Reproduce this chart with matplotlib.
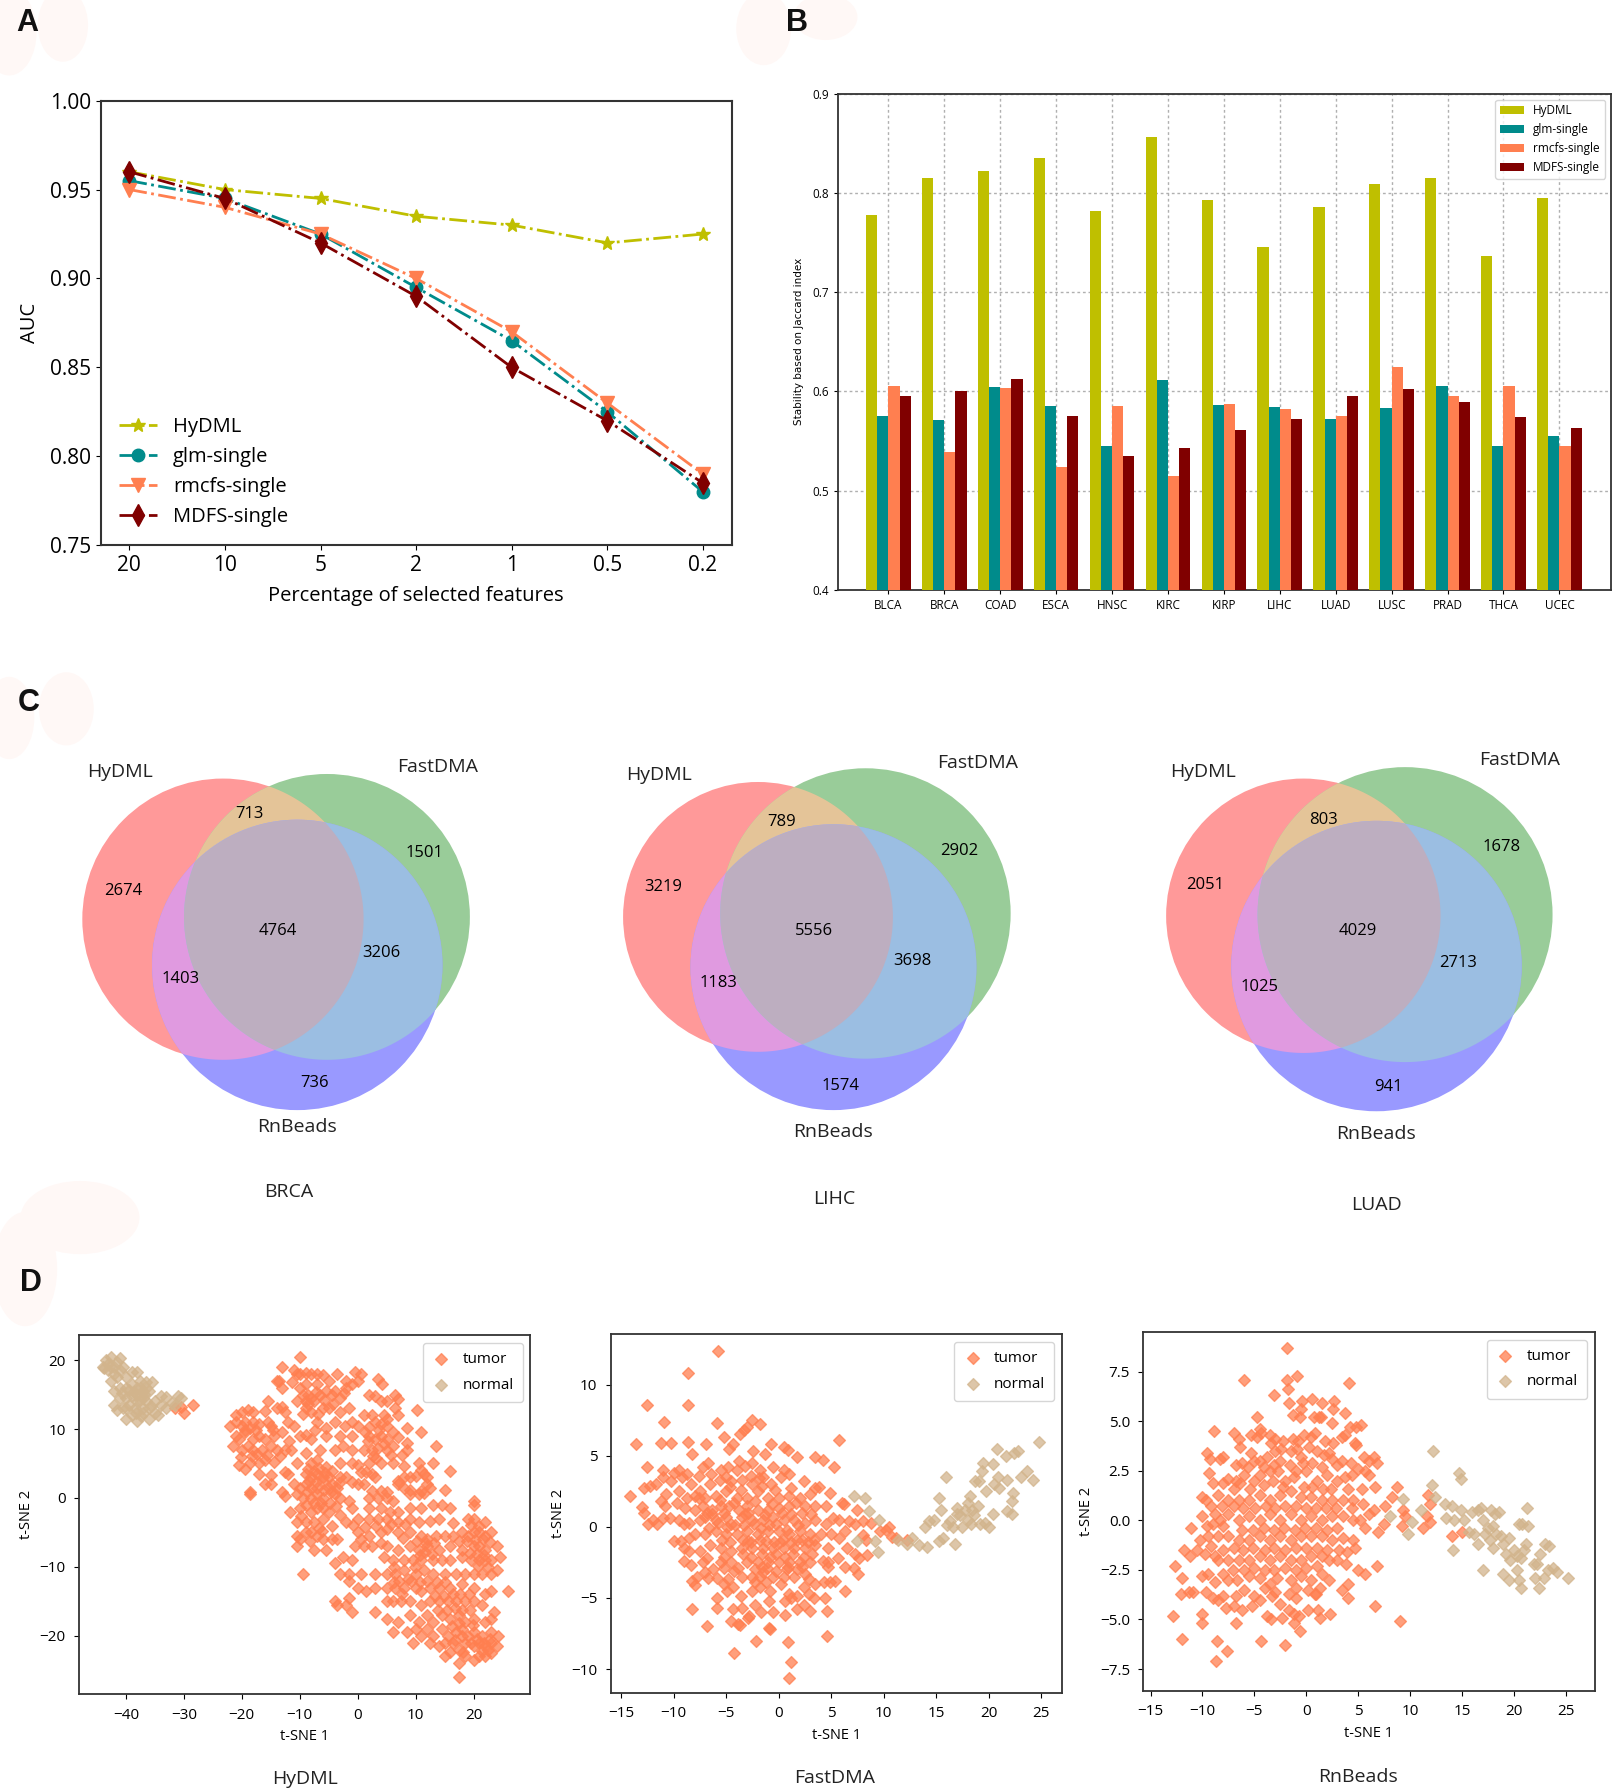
import numpy as np
import matplotlib
matplotlib.use('Agg')
import matplotlib.pyplot as plt
from matplotlib.patches import Circle, Ellipse, Polygon

W, H = 1612, 1791
S = W / 1410.0  # layout below was measured on a 1410 wide view

# panel A
pct_labels = ['20', '10', '5', '2', '1', '0.5', '0.2']
auc_hydml = [0.96, 0.95, 0.945, 0.935, 0.93, 0.92, 0.925]
auc_glm = [0.955, 0.945, 0.925, 0.895, 0.865, 0.825, 0.78]
auc_rmcfs = [0.95, 0.94, 0.925, 0.90, 0.87, 0.83, 0.79]
auc_mdfs = [0.96, 0.945, 0.92, 0.89, 0.85, 0.82, 0.785]

# panel B
cancers = ['BLCA', 'BRCA', 'COAD', 'ESCA', 'HNSC', 'KIRC', 'KIRP', 'LIHC', 'LUAD', 'LUSC', 'PRAD', 'THCA', 'UCEC']
stab_hydml = [.778, .815, .822, .835, .782, .856, .793, .746, .786, .809, .815, .736, .795]
stab_glm = [.575, .571, .604, .585, .545, .612, .586, .584, .572, .583, .605, .545, .555]
stab_rmcfs = [.605, .539, .603, .524, .585, .515, .587, .582, .575, .625, .595, .605, .545]
stab_mdfs = [.595, .600, .613, .575, .535, .543, .561, .572, .595, .602, .589, .574, .563]

# panel C, order: HyDML only, FastDMA only, HyDML+FastDMA, all, FastDMA+RnBeads, HyDML+RnBeads, RnBeads only
venn_names = ['BRCA', 'LIHC', 'LUAD']
venn_brca = ['2674', '1501', '713', '4764', '3206', '1403', '736']
venn_lihc = ['3219', '2902', '789', '5556', '3698', '1183', '1574']
venn_luad = ['2051', '1678', '803', '4029', '2713', '1025', '941']

# panel D
hydml_normal = [(-44, 19), (-43.5, 20), (-43, 19.5), (-42.5, 20.5), (-42, 19), (-41.5, 19.8), (-41, 20.3), (-43, 18.5), (-42, 18), (-41, 18.5),
                (-40.5, 19), (-42.5, 17), (-41.5, 17.5), (-40, 17.5), (-39, 18.3), (-38, 18.3), (-37.5, 17), (-36.5, 16.8), (-35.5, 16.8), (-42, 15.5),
                (-41, 16), (-40, 16), (-39, 16.5), (-38, 16), (-37, 15.5), (-36, 15.5), (-38, 15), (-37, 14.5), (-39, 14.8), (-40, 14.5),
                (-41, 14.5), (-42, 13.5), (-41.5, 12.7), (-40.5, 13), (-40, 11.5), (-39, 12), (-38, 11.2), (-38.5, 13), (-37, 13), (-36, 13),
                (-35, 14), (-34, 14.8), (-33, 14.7), (-32, 13.8), (-31, 14.8), (-30.5, 14.5), (-34, 13.5), (-33, 13), (-35, 12.3), (-36, 11.5),
                (-37, 12.3), (-39.5, 13.5), (-38, 14), (-36.5, 14), (-37.5, 16), (-36.5, 16), (-31.5, 13.5), (-40, 13), (-34.5, 12),
                (-38.6, 15.4), (-37.6, 14.2), (-36.8, 15.1), (-39.4, 15.7), (-38.3, 12.4), (-37.4, 11.9), (-40.6, 15.2), (-35.7, 13.4), (-42.7, 19.2), (-43.7, 18.9)]
hydml_tumor = [(-28.5, 13.5), (-30, 12.3), (-30.5, 13.2), (-31.5, 13), (-18.5, 0.6), (-10, 20.5), (-9.5, -11), (10.2, 12.7), (11, 9.5), (13.5, 7.6),
               (13, 5), (16, 3.9), (15, 1.2), (26, -13.5), (17.5, -26), (-18.5, 0.8), (-4, -15), (-13, 19), (-11, 18.5), (-10, 18),
               (-9, 18.2), (-10.5, 18), (-8, 18), (-7, 18), (-6, 17.8), (-3.5, 18), (-0.5, 18.3), (0.5, 18), (-14, 17), (-13.5, 17),
               (-9, 16.5), (-7, 16.5), (-5, 17), (-2, 17), (-1, 16.5), (0, 17), (3.5, 17.3), (4.2, 16.6), (-4, 15.5), (-2, 16),
               (-13, 16), (-10, 16), (-9.5, 15), (-8.5, 15), (-8, 14.5), (-7.5, 14), (-9, 14), (-6.5, 15), (-5.5, 15.5), (-4.5, 15),
               (-3, 14.5), (2, 15), (3, 14.8), (4, 14), (5, 14), (6.5, 15), (7, 14.3), (-15.5, 14), (-10.5, 14), (-21, 12),
               (-20, 12.5), (-19, 12.8), (-18, 12.5), (-16, 12.6), (-14, 13), (-13, 13.2), (-12.5, 12.5), (-9, 13), (-8, 12.5), (-6, 13),
               (-5, 13), (-3, 12.5), (-1.5, 13), (1, 12), (2.5, 12), (4.5, 12), (5, 11.5), (6.5, 13), (7, 12), (-22, 10.5),
               (-21, 11), (-20, 10.5), (-19.5, 11), (-18, 11), (-17, 10.8), (-15.5, 11), (-15, 10.5), (-12, 11), (-11, 10.5), (-7, 11),
               (-4, 11), (-1, 11), (0, 10.5), (2, 10.3), (3, 11), (4, 10.8), (5, 10.5), (8.5, 10.2), (-21, 9), (-20.5, 8.5),
               (-19.5, 9.5), (-18, 8.5), (-17, 9), (-16, 8.5), (-14.5, 9), (-13, 9.5), (-10, 9), (-9, 9.2), (-8, 8.5), (-5.5, 9),
               (-3, 9), (-1, 9), (2, 9), (3, 8.5), (4, 9), (5, 8.5), (6, 9.5), (7, 8.8), (8.5, 8), (-21.5, 7.5),
               (-20, 7), (-19, 7.5), (-18, 7), (-16.5, 7), (-15, 7.5), (-14, 7), (-12.5, 7), (-11.5, 7), (-9, 6.5), (-6.5, 7),
               (-4, 7), (-2.5, 7.5), (-1, 7), (1, 7), (2.5, 7), (3.5, 7.3), (5, 7), (6, 7.5), (8.5, 7), (-20.5, 4.8),
               (-19.5, 4.2), (-18.5, 5), (-17, 5), (-16, 5.5), (-14.5, 5.2), (-10.5, 5), (-8, 5), (-7, 5.5), (-5.5, 4.5), (-3, 5),
               (-1, 5), (0, 4.8), (2, 5), (4, 5), (6, 5), (8, 4.7), (10.5, 5), (11, 4), (-17, 3.5), (-15, 3.3),
               (-12.5, 3.7), (-12, 3.5), (-9, 3.5), (-8, 3), (-7, 3.5), (-6, 3), (-5, 3), (-3, 3), (-2, 3), (0.5, 3.8),
               (1.5, 3.7), (2.5, 3.5), (3, 3), (7, 2.5), (8, 3), (9, 3), (10, 3.2), (11.5, 3.5), (12, 3), (-16, 2),
               (-15, 2), (-11, 2), (-10, 1.5), (-9, 2), (-8, 1.5), (-7, 1.5), (-6, 2.5), (-5, 1.5), (-4.5, 2), (-3.5, 1.5),
               (-1, 2.3), (0, 2), (1, 2), (2.5, 1), (4, 1), (5, 0.8), (7, 2), (8, 1.5), (9, 1.2), (11, 1),
               (12, 2), (12.5, 1.5), (-13, 0.8), (-12.5, 0.3), (-10.5, 0.5), (-9.5, 0), (-8, 0), (-7, 0.5), (-6, 0), (-4, 0.5),
               (-3, 0), (-1.5, -0.5), (2, 0), (3.5, 0), (5, 0), (6, -0.5), (9, 0.5), (10.5, 0.5), (11.5, 0.7), (-11.7, -2),
               (-10, -1.5), (-9, -1), (-8, -2), (-7, -1.5), (-6, -1.5), (-5, -2), (-3, -2.5), (-1, -1.5), (2, -1.5), (4, -1.5),
               (5.5, -2), (7, -2), (9, -1.5), (11, -1.5), (13, -1), (14.5, -1), (16, -1.5), (20, -0.5), (20, -1), (-10.5, -3.5),
               (-9, -3.5), (-7.5, -3.5), (-6, -3), (-4.5, -4), (-2, -3.5), (0, -3), (2, -3), (3.5, -3), (5, -3), (7, -3.5),
               (9, -3), (10.5, -3.5), (12.5, -3.3), (14, -3), (16.5, -3.7), (19, -3), (20, -3), (22, -3.5), (-10.5, -5.5), (-10, -6),
               (-9, -5), (-8, -5), (-7, -5.5), (-6, -6), (-4.5, -6), (-3.5, -6), (0, -5), (0.5, -6), (2, -5.5), (4, -5),
               (5, -4.5), (7, -5), (9, -5), (11, -5.5), (12, -6), (13.5, -5.5), (15, -5.5), (16.5, -5.5), (18, -5), (19, -5.5),
               (20, -5), (21, -5), (22, -5.5), (23, -5), (-10.5, -7), (-7.5, -7.5), (-5.5, -7.5), (-0.5, -7), (1, -7), (2.5, -7),
               (4, -6.5), (5, -7), (7, -7.5), (9, -7), (10.5, -7.5), (12, -7), (14, -7.5), (16, -7), (18, -7.5), (20, -7),
               (21, -7), (22, -7.5), (24, -7), (-4, -9.5), (-2.5, -8.5), (-1, -9), (4.5, -8.5), (6, -9), (8, -9), (9.5, -9),
               (11, -9), (13, -9), (14.5, -9), (16, -9), (18, -8.5), (19.5, -9), (21, -9), (22, -9), (23, -9), (24.5, -8.5),
               (-3, -11), (-1.5, -11), (0.5, -11), (3, -11), (5, -11), (6.5, -11), (8, -10.5), (10, -11), (11.5, -10.5), (13, -11),
               (15, -11), (17, -11), (18.5, -11), (20, -11), (21.5, -11), (23, -11), (24, -10.5), (-1.5, -12), (0, -13), (1.5, -13.5),
               (3, -13), (5, -13), (6.5, -13), (8, -13), (10, -13), (11, -13.5), (12.5, -13), (14, -13), (16, -13), (18, -12.5),
               (20, -13), (23, -13.5), (22, -14), (-3.5, -15.5), (-2, -15.5), (-1.5, -14.5), (-1, -16.5), (3, -16.5), (5, -15), (6, -15),
               (7.5, -15), (9, -15), (11, -15.5), (12.5, -15), (14, -15), (15.5, -15), (17, -15), (18.5, -15), (20, -15), (21.5, -15.5),
               (23.5, -16.5), (5, -17.5), (7, -18), (9, -17), (10.5, -18), (12, -17), (13, -18), (14.5, -17), (16, -17.5), (17.5, -17),
               (18.5, -18), (20, -17.5), (22, -18), (23, -17.5), (6, -19.5), (8.5, -19.5), (10, -19), (11, -20), (12, -19), (13, -20),
               (14.5, -19), (15.5, -20), (17, -19.5), (18, -19), (19, -20), (20, -19.5), (21.5, -20), (23, -19.5), (24.2, -20), (9.5, -21),
               (12.5, -21), (14, -21.5), (15, -21), (16.5, -21), (17.5, -22), (18.5, -21), (20, -21.5), (21, -21), (22, -21.5), (23, -21),
               (24, -21.5), (15, -23), (17.5, -24), (18.5, -23), (20, -23.5), (21, -23), (22, -23), (23, -22.5)]
# second pass over the dense parts of the HyDML cloud
hydml_tumor_dense = [(-8.6, 13.6), (-7.2, 15.4), (-9.4, 12.2), (-6.8, 12.2), (-5.8, 14.2), (-4.2, 13.6), (-2.3, 15.3), (-11.3, 16.8), (-19.4, 9.9), (-18.6, 10.2),
                     (-17.6, 9.8), (-20.2, 5.9), (-18.3, 6.1), (-17.4, 6.4), (-15.6, 6.2), (-14.6, 9.9), (-13.4, 6.1), (-11.8, 8.2), (-7.4, 9.8), (-5.4, 10.2),
                     (-2.2, 10.4), (1.2, 9.6), (2.6, 6.1), (3.7, 9.9), (4.6, 7.9), (5.8, 6.2), (3.2, 5.8), (1.8, 8.2), (7.6, 6.2), (-8.6, 4.2),
                     (-7.6, 3.9), (-6.6, 4.4), (-5.6, 3.6), (-4.4, 3.9), (-8.4, 2.4), (-7.2, 2.3), (-5.8, 1.2), (-4.6, 0.8), (-3.2, 2.2), (-8.8, 0.8),
                     (-7.6, -0.7), (-6.4, -0.8), (-4.8, -0.7), (-3.8, -1.2), (-9.8, -2.6), (-6.6, -4.4), (-8.2, -6.2), (-6.2, -4.8), (-0.8, -3.9), (1.2, -4.2),
                     (3.2, -4.1), (5.8, -3.8), (7.8, -5.8), (8.2, -3.8), (10.2, -6.2), (11.6, -7.8), (12.8, -8.2), (10.8, -8.3), (11.8, -6.6), (9.8, -10),
                     (13.2, -6.6), (17.5, -6.3), (18.8, -6.2), (20.2, -6.1), (21.6, -6), (19.4, -8), (20.6, -8.1), (21.8, -8.3), (20.8, -9.9), (22.4, -10),
                     (19.6, -3.9), (21, -4), (22.8, -6.4), (6.2, -10), (7.2, -12), (8.6, -11.8), (6.2, -12.2), (7.6, -14), (9.2, -12), (10.8, -12.2),
                     (12, -12), (13.6, -12.2), (15, -12.2), (16.4, -14), (13.4, -14.2), (14.8, -14.2), (17.6, -14), (19.2, -14), (13.8, -16.2), (15.4, -16.2),
                     (16.8, -16), (18, -16.2), (19.4, -16.3), (17.4, -18.2), (16.2, -18.6), (18, -20), (19.8, -18.4), (16.8, -20.6), (19.6, -21), (20.6, -20.4),
                     (21.8, -21), (22.4, -22), (21.4, -22.2), (18.2, -22.4), (16, -22.4), (22.8, -20.4)]

fastdma_normal = [(7.2, 2.2), (8.2, 2), (8.6, 1.1), (9.6, 0.5), (7.5, -1), (9.2, -1), (9.5, -1.8), (11.4, -0.9), (12.2, -1.2), (12.7, -0.8),
                  (13.4, -1.3), (14.1, -1.4), (13.9, 0), (14.3, 0.4), (14.8, 0.5), (15.3, -1), (15.7, -0.8), (15.5, 1.2), (15.3, 2), (15.9, 3.5),
                  (16, 0.1), (16.3, 0.4), (16.6, 0), (16.8, -1.2), (17, 1.3), (17.3, 0.8), (17.8, 1.2), (17.5, 0), (18, 1.7), (18.2, 2.2),
                  (18.4, 1.2), (18.6, 0.8), (18.3, 0.2), (19, 1.5), (18.7, 3.2), (19.1, 3.2), (19.4, 3.9), (19.5, 4.5), (19.8, 2.5), (19.7, 0.3),
                  (20, 0), (20.5, 3), (20.9, 3.5), (20.8, 5.5), (20.4, 4.4), (21, 2.7), (21.8, 3.3), (21.7, 5), (22.2, 1.8), (22.3, 2.4),
                  (21.8, 1.1), (22.2, 0.9), (22.4, 5.2), (22.8, 5.3), (23.1, 3.5), (23.7, 3.9), (24.2, 3.3), (24.8, 6), (18, 0.5), (17, 0.9),
                  (19.2, 0.2), (20.4, 0.9)]
fastdma_tumor = [(-5.8, 12.4), (-8.6, 10.8), (-12.5, 8.6), (-8.6, 8.6), (-10.9, 7.4), (-5.9, 7.3), (-2.5, 7.5), (-1.8, 7.2), (-3, 7), (-3.3, 6.8),
                 (-3.7, 6.5), (-5.2, 6.3), (-13.6, 5.8), (-11.2, 5.9), (-10.2, 5.9), (-8.6, 6), (5.8, 6.1), (-6.9, 5.8), (-4.3, 5.8), (-4.7, 5.5),
                 (-0.7, 5.8), (0.5, 5.6), (0.9, 5.4), (-2.4, 5.3), (-8.2, 5.1), (-1.3, 5.1), (1.8, 4.9), (3.5, 4.9), (4.2, 4.7), (5.3, 4.2),
                 (-12.5, 4.2), (-14.1, 2.2), (-11, 4), (-10, 3.8), (-9.5, 4), (-8.7, 3.7), (-7.2, 4.2), (-5.5, 4), (-5, 3.5), (-4, 4),
                 (-3.2, 4.3), (-2.5, 4.5), (-1.8, 4), (-0.5, 4.2), (0.5, 4), (1, 3.7), (-6.7, 4.5), (-12.8, 2.7), (-12.2, 2.9), (-11.7, 3),
                 (-11, 3.5), (-10.2, 3.2), (-9.2, 3.5), (-8.3, 3), (-7.5, 2.5), (-6.5, 3), (-5.6, 3.3), (-4.5, 3.2), (-3.5, 3.3), (-2.5, 3),
                 (-1.5, 3.5), (-0.7, 3), (0.2, 3.5), (1.2, 2.7), (2.4, 3.2), (3.5, 2.7), (3.9, 2.8), (-10.7, 2.3), (-9.5, 2.5), (-8.7, 2),
                 (-8, 2.2), (-7, 2), (-6, 2.2), (-5, 2.5), (-4, 2), (-3, 2), (-2, 2.5), (-1, 2), (0, 2), (1, 2.2),
                 (2, 2), (3, 2.3), (4.9, 2.4), (-11.2, 1.8), (-10.8, 1.5), (-9.7, 1.7), (-8.9, 1.3), (-8, 1.2), (-7.2, 1.5), (-6.3, 1.2),
                 (-5.5, 1.5), (-4.7, 1.5), (-3.8, 1.2), (-3, 1.5), (-2, 1.2), (-1, 1.2), (0, 1.3), (1, 1.5), (1.7, 1.7), (2.5, 1.5),
                 (3.5, 1.5), (4.5, 1.5), (6, 1.7), (6.2, 1.6), (7.5, 1.2), (-13, 1.4), (-12.8, 1), (-12, 0.5), (-11.6, 0.2), (-12.4, 0.2),
                 (-11, 0.6), (-10.3, 0.6), (-9.5, 0.5), (-9, 0.2), (-8.5, 0.3), (-7.5, 0.5), (-7, 0.7), (-6, 0.5), (-5, 0.7), (-4.5, 0.2),
                 (-3.5, 0.7), (-2.5, 0.5), (-1.5, 0.5), (-0.5, 0.7), (0.5, 0.5), (1.5, 0.5), (2.5, 0.3), (3.5, 0.5), (4.5, 0.2), (5.2, 0.6),
                 (5.8, 0.5), (6.7, 0.4), (7.3, 0.2), (8, 0.4), (8.8, 0.3), (10.2, -0.2), (10.5, 0), (-10, -1), (-9.3, -1), (-8.5, -0.8),
                 (-8, -0.5), (-7, -0.5), (-6, -0.3), (-5, -0.5), (-4, -0.5), (-3, -0.3), (-2, -0.5), (-1, -0.3), (0, -0.3), (1, -0.5),
                 (2, -0.3), (3, -0.5), (4, -0.5), (5, -0.5), (5.8, -0.8), (6.3, -0.3), (8, -0.6), (8.3, -0.9), (9.7, -0.3), (10.8, -0.7),
                 (11.2, -0.8), (12.2, -0.9), (-9, -1.5), (-8.5, -1.7), (-7.5, -1.7), (-6.5, -1.3), (-5.5, -1.5), (-4.5, -1.7), (-3.5, -1.5), (-2.5, -1.5),
                 (-1.5, -1.5), (-0.5, -1.5), (0.5, -1.5), (1.5, -1.5), (2.5, -1.5), (3.5, -1.3), (4.7, -1.5), (6.5, -1.5), (7.3, -1.9), (7.7, -2.2),
                 (8.4, -2), (-9, -2.4), (-8.3, -2.7), (-7.2, -2.5), (-6.8, -2.2), (-5.5, -2.5), (-4.5, -2.5), (-3, -2.5), (-2, -2.5), (-1, -2.5),
                 (0, -2.5), (1, -2.5), (2, -2.5), (3, -2.5), (4.2, -2.4), (4.7, -2.5), (5.7, -2.2), (6.3, -2.8), (7.2, -2.9), (7.6, -3.3),
                 (-8.2, -3.8), (-7.8, -3.5), (-7, -3.2), (-6.7, -3.6), (-5.9, -3.6), (-5.2, -2.9), (-4.2, -3.1), (-3.5, -3.5), (-2.5, -3.5), (-1.5, -3.2),
                 (-0.5, -3.5), (0.5, -3.5), (1.5, -3.5), (2.5, -3.3), (3.5, -4), (4.3, -3.9), (4.9, -3.9), (5.4, -3.8), (4.7, -2.8), (-8, -4.1),
                 (-5.9, -5), (-5.2, -4), (-4.9, -4.5), (-4.3, -4.2), (-3.6, -4.9), (-2.5, -4.5), (-1.8, -4.2), (-0.8, -4.5), (0.2, -4), (1, -4.7),
                 (1.8, -4.9), (2.4, -4.2), (3.4, -5), (4.4, -5), (6.3, -4.5), (0.6, -5.2), (1.2, -5), (-8.2, -5.8), (-5.9, -5.7), (-4.3, -5.8),
                 (-3.5, -5.7), (-2.8, -6.3), (-2.2, -5.5), (-1.7, -6), (-0.5, -6), (0.6, -6.2), (1.8, -5.8), (2.4, -5.5), (3, -5.9), (4.6, -5.9),
                 (-4.5, -6.6), (-3.9, -6.8), (-3.7, -6.9), (-2.9, -6.4), (-0.9, -7.1), (-0.8, -7.2), (-6.8, -7), (-2.1, -8), (4.6, -7.7), (0.9, -8.1),
                 (-4.2, -8.9), (1.2, -9.5), (1, -10.6)]
fastdma_tumor_dense = [(-6.3, 0.9), (-5.6, 1.9), (-5.2, 1), (-4.6, 2.8), (-4.2, 1.7), (-3.6, 2.6), (-3.2, 0.9), (-2.6, 3.6), (-2.2, 1.8), (-1.6, 2.9),
                       (-1.3, 0.8), (-0.6, 1.6), (-0.2, 0.2), (0.3, 1), (0.8, -0.2), (1.2, 0.9), (1.8, -0.9), (2.2, 1), (-6.6, -0.1), (-5.4, -0.9),
                       (-4.6, -1.1), (-3.4, -0.9), (-2.6, -1.1), (-1.8, -0.9), (-1.2, -1), (-0.4, -1.1), (0.4, -0.9), (1.2, -1.1), (2.2, -0.9), (2.8, -1.1),
                       (3.4, -0.9), (-3.4, -1.9), (-2.6, -2.1), (-1.6, -1.9), (-0.8, -2.1), (-0.2, -1.9), (0.6, -2.1), (1.4, -1.9), (2.4, -2.1), (3.2, -1.9),
                       (-2.2, -3), (-1.6, -2.8), (-1.2, -3.9), (-2.2, -3.9), (-0.2, -3.1), (0.8, -3), (1.8, -3), (2.2, -2.8), (2.9, -3.7), (-1.8, -3.5),
                       (-7.6, 3.6), (-6.4, 3.7), (-4.8, 4.2), (-3.8, 4.6), (-1.9, 3.4), (-0.3, 2.6), (-6.8, 1), (-7.6, 2), (-4.1, 0.1), (-3.3, 0.1),
                       (-1.7, -0.1), (-0.9, 0.1), (1.9, 0.1), (3.1, 0.9), (-5.2, -2.1), (-3.9, -2.9), (-6.2, -3), (-4.8, -3.7), (-0.9, -5.2), (2.9, -4.7),
                       (-5.8, 0.3), (-4.9, 0), (-2.9, 1), (-2.3, 0.2), (0.1, -1.1), (0.9, -2.8), (-1.1, -2.9), (-2.9, -1)]

rnbeads_normal = [(12.2, 3.5), (14.7, 2.4), (14.9, 2.1), (12.1, 1.8), (12.4, 1.2), (9.3, 1.1), (13.4, 0.8), (14, 0.7), (11.1, 0.5), (14.9, 0.5),
                  (8.1, 0.2), (10.2, -0.1), (9.8, -0.7), (13.5, 0.1), (14.2, 0), (15.2, 0), (16, 0.4), (16.5, 0.5), (16.8, 0.6), (17, 0),
                  (15.7, -0.6), (16.2, -0.7), (16.5, -1.2), (17.2, -0.7), (17.5, -0.4), (17.8, 0.5), (18.2, 0.3), (18.6, 0.4), (18, -0.3), (18.3, -0.7),
                  (17.7, -1), (18, -1.4), (18.8, -0.8), (19, -1.2), (19.5, -0.9), (19.2, -1.7), (19.6, -2), (20, -1.5), (20.3, -1.8), (20.7, -1.9),
                  (21, -1.5), (21.2, -1.2), (20.5, -0.2), (20.8, -0.2), (21.4, -0.3), (21.3, 0.6), (14.1, -1.5), (17, -2.5), (19, -2.7), (19.5, -3),
                  (20.3, -2.5), (20.5, -3), (20.7, -3.4), (21.9, -2.2), (22.2, -2.2), (22.5, -1.7), (22, -2.9), (22.4, -3.4), (22.9, -2.9), (23, -1.2),
                  (23.4, -1.3), (23.3, -2.5), (23.8, -2.4), (24.2, -2.6), (25.2, -2.9)]
rnbeads_tumor = [(-1.9, 8.7), (-6, 7.1), (-1.9, 7.1), (-0.9, 7.3), (4.1, 6.9), (-1.8, 6.6), (-3.1, 6.3), (0.6, 6.1), (2.7, 6), (-0.4, 6),
                 (-1.7, 5.9), (1.5, 5.9), (-0.5, 5.6), (2.6, 5.6), (3.7, 5.4), (-1.3, 5.3), (-0.6, 5.2), (0.7, 5.2), (1.2, 5.2), (1.4, 5.2),
                 (-4.7, 5.2), (2.5, 4.9), (4.2, 4.7), (4.8, 4.7), (5.3, 4.8), (-4.5, 4.6), (-8.9, 4.5), (-7, 4.4), (-5.3, 4.3), (-4.7, 4.2),
                 (-4.4, 4.4), (-6.5, 4.1), (-3.5, 4.3), (-3, 4.1), (-2.2, 4), (-1.3, 4.1), (-0.8, 4), (-0.2, 4.3), (0.5, 4.2), (0.8, 4.4),
                 (1.8, 4), (2.6, 3.9), (3.4, 4.2), (3.7, 4.3), (4.7, 3.9), (4.8, 3.8), (-9.6, 3.4), (-9.3, 3.1), (-8.3, 3.1), (-8, 3.2),
                 (-6.8, 2.8), (-6.4, 3.7), (-6.2, 2.9), (-5.3, 3.4), (-5, 3), (-4.5, 3), (-3.8, 3.2), (-3, 3.5), (-2.5, 3), (-1.5, 3.5),
                 (-0.5, 3.2), (0.3, 3.7), (1, 3.5), (1.7, 3.3), (2.5, 3.1), (3, 2.8), (4.3, 2.9), (5.6, 3.2), (6, 3), (6.5, 3.2),
                 (6.8, 2.9), (-9.4, 2.4), (-9, 1.9), (-8, 1.9), (-7.5, 2.1), (-6.8, 2), (-6, 2.3), (-5, 2), (-4.5, 2.3), (-3.5, 2.5),
                 (-2.7, 2.5), (-2, 2), (-1, 2.5), (0, 2.5), (1, 2), (2, 2.3), (3, 2), (3.7, 2.2), (4.4, 2.3), (5, 2.6),
                 (5.7, 2.5), (6, 2.3), (5.4, 1.6), (-10, 1.2), (-9.7, 1), (-8.5, 1.3), (-7.5, 1), (-6.5, 1), (-5.5, 1), (-4.5, 1.3),
                 (-3.5, 1), (-2.5, 1.3), (-1.5, 1.5), (-0.5, 1.2), (0.5, 1.2), (1.5, 1), (2.5, 1), (3.5, 1), (4.5, 1), (5.5, 0.8),
                 (6.6, 1.7), (7.6, 0.7), (8.3, 1.2), (8.7, 1.7), (11.7, 1.3), (11.9, 0.8), (-10, 0.2), (-9.6, -0.3), (-8.8, 0.3), (-8.3, 0),
                 (-7.5, 0.3), (-6.5, 0), (-5.5, 0.2), (-4.5, 0), (-3.5, 0.3), (-2.5, 0), (-1.5, 0.3), (-0.5, 0), (0.5, 0.2), (1.5, 0),
                 (2.5, 0.2), (3.5, 0.2), (4.5, 0), (5.2, 0), (6, 0.3), (6.5, 0.5), (7.5, -0.2), (9.3, 0.5), (9.5, 0.2), (11.6, 0.2),
                 (11.9, -0.1), (-11.1, -0.4), (-10.2, -1), (-9.5, -0.8), (-8.5, -0.8), (-7.5, -0.8), (-6.5, -1), (-5.5, -1), (-4.5, -0.8), (-3.5, -1),
                 (-2.5, -0.8), (-1.5, -1), (-0.5, -0.8), (0.5, -0.8), (1.5, -0.8), (2.5, -1), (3.5, -0.9), (4.5, -1), (5.7, -0.4), (6.9, -0.6),
                 (9.2, -0.3), (11.2, -0.4), (14, -0.8), (15, -0.6), (-11.8, -1.5), (-11.2, -1.8), (-10.5, -1.5), (-9.8, -1.7), (-8.8, -1.8), (-8.5, -2),
                 (-7.5, -2), (-6.5, -2), (-5.5, -2), (-4.5, -1.8), (-3.5, -2), (-2.5, -1.8), (-1.5, -2), (-0.5, -2), (0.5, -1.8), (1.5, -1.8),
                 (2.2, -2), (3, -2), (3.8, -2.2), (4.7, -1.4), (6.8, -2.3), (-12.6, -2.3), (-12, -2.9), (-10, -2.8), (-9.5, -2.7), (-8.8, -3.1),
                 (-8, -2.7), (-7.5, -3), (-6.7, -3), (-5.5, -2.8), (-4.5, -2.9), (-3.5, -3.2), (-2.8, -2.9), (-1.5, -3), (-0.5, -2.8), (0.5, -3),
                 (1.5, -2.7), (2.2, -3), (4, -3.2), (5, -2.5), (5.7, -2.7), (-12.1, -3.7), (-11.3, -3.6), (-10.9, -3.6), (-9.7, -3.6), (-9, -3.9),
                 (-8.5, -4), (-8, -3.8), (-6.8, -3.8), (-6, -3.5), (-5, -3.8), (-4.5, -4), (-3.3, -3.8), (-2.5, -4.2), (-1.7, -3.7), (-1, -3.9),
                 (0.8, -3.7), (0.9, -3.7), (3.4, -3.5), (4, -3.9), (-12.8, -4.8), (-10, -4.7), (-10, -5.2), (-7.7, -4.4), (-7, -4.3), (-6.2, -4.5),
                 (-5.2, -4.3), (-3.8, -4.8), (-3.4, -5), (-2.3, -4.9), (-1.7, -4.5), (-1.2, -4.7), (-0.7, -4.8), (0.2, -4.5), (1.1, -4.5), (1.3, -4.9),
                 (2.3, -4.7), (6.6, -4.3), (-6.8, -5.2), (-1.2, -5.2), (-0.6, -5.6), (9, -5.1), (-12, -6), (-8.6, -6.1), (-4.4, -6.1), (-2, -6.3),
                 (-7.6, -6.6), (-8.7, -7.1)]
rnbeads_tumor_dense = [(-6.1, 0.6), (-5.4, 1.6), (-4.9, 0.6), (-4.1, 1.8), (-3.9, 0.7), (-3.2, 2), (-3, 0.6), (-2.2, 1.7), (-2, 0.7), (-1.2, 2.2),
                       (-1, 0.7), (-0.2, 1.7), (0, 0.6), (0.6, 1.7), (0.9, 0.6), (1.6, 1.6), (1.9, 0.6), (2.4, 1.6), (2.9, 0.6), (-6.2, -0.5),
                       (-5.1, -0.5), (-4.1, -0.4), (-3.1, -0.5), (-2.1, -0.4), (-1.1, -0.5), (-0.1, -0.4), (0.9, -0.4), (2, -0.5), (3, -0.4), (-6.1, -1.5),
                       (-5.1, -1.4), (-4, -1.5), (-3.1, -1.4), (-2, -1.5), (-1, -1.4), (0, -1.4), (1, -1.4), (2, -1.5), (3.2, -1.5), (-5, -2.4),
                       (-4, -2.5), (-3.1, -2.5), (-2, -2.4), (-1, -2.5), (0, -2.4), (1, -2.3), (-4, -3.4), (-3, -3.6), (-1, -3.4), (0.2, -3.5),
                       (1.3, -3.4), (-7, -1.4), (-8, -1.5), (-8, -0.3), (-7, 0.7), (-8.1, 0.7), (-5.6, 2.7), (-4.1, 2.7), (-3.1, 2.8), (-1.6, 2.8),
                       (-0.3, 2.9), (0.6, 2.9), (1.5, 2.7), (-2.4, 3.6), (-0.9, 3.6), (2.2, 3.4), (3.4, 3), (-3.4, 3.9), (-7.1, -2.5), (-6, -2.5),
                       (-9.2, -1.3), (-9, -0.2), (-9.2, 0.7), (-7, 1.6), (-6.4, 1.9), (4, 1.6), (3.9, -1.6), (4.4, 0.6)]

plt.rcParams['font.family'] = ['Open Sans', 'DejaVu Sans']
plt.rcParams['axes.edgecolor'] = '#333333'


def axes_px(left, top, right, bottom):
    # box given in view pixels
    return fig.add_axes([left * S / W, 1 - bottom * S / H, (right - left) * S / W, (bottom - top) * S / H])


def put(x, y, txt, **kw):
    fig.text(x * S / W, 1 - y * S / H, txt, ha='center', va='center', **kw)


def region(circles):
    # polygon of the overlap of some circles, they are convex so sorting by angle is enough
    pts = []
    t = np.linspace(0, 2 * np.pi, 720, endpoint=False)
    for cx, cy, r in circles:
        p = np.column_stack([cx + r * np.cos(t), cy + r * np.sin(t)])
        for ox, oy, or_ in circles:
            p = p[(p[:, 0] - ox) ** 2 + (p[:, 1] - oy) ** 2 <= or_ ** 2 + 1e-6]
        pts.append(p)
    pts = np.vstack(pts)
    mid = pts.mean(axis=0)
    return pts[np.argsort(np.arctan2(pts[:, 1] - mid[1], pts[:, 0] - mid[0]))]


fig = plt.figure(figsize=(W / 100, H / 100), dpi=100)

# page background: pale smudges behind the panel letters and the venn circles
bg = fig.add_axes([0, 0, 1, 1])
bg.set_xlim(0, W / S)
bg.set_ylim(H / S, 0)
bg.axis('off')
for x, y, a, b in [(8, 28, 24, 38), (55, 22, 22, 32), (668, 25, 24, 32), (722, 15, 28, 20),
                   (8, 628, 22, 36), (58, 620, 24, 32), (70, 1065, 52, 32), (22, 1110, 28, 50)]:
    bg.add_patch(Ellipse((x, y), 2 * a, 2 * b, color='#fff8f6', lw=0))

venn_circles = [[(195, 804, 123), (286, 802, 125), (260, 844, 127)],
                [(663, 802, 118), (757, 799, 127), (729, 846, 125)],
                [(1140, 801, 120), (1229, 800, 129), (1204, 845, 127)]]
venn_pos = [[(108, 779), (371, 746), (218, 712), (243, 814), (334, 834), (158, 856), (275, 947)],
            [(580, 776), (839, 744), (684, 719), (712, 814), (798, 841), (628, 860), (735, 950)],
            [(1054, 774), (1313, 741), (1158, 717), (1188, 814), (1275, 842), (1102, 863), (1214, 951)]]
venn_heads = [[(105, 675), (383, 671), (260, 986), (253, 1043)],
              [(576, 678), (855, 667), (729, 990), (730, 1049)],
              [(1052, 675), (1329, 665), (1204, 992), (1204, 1054)]]
venn_counts = [venn_brca, venn_lihc, venn_luad]
for k in range(3):
    c = venn_circles[k]
    for circ, col in zip(c, ['#ff9999', '#99cc99', '#9999ff']):
        bg.add_patch(Circle(circ[:2], circ[2], color=col, lw=0))
    bg.add_patch(Polygon(region([c[0], c[1]]), color='#e4c498', lw=0))
    bg.add_patch(Polygon(region([c[0], c[2]]), color='#e09ae0', lw=0))
    bg.add_patch(Polygon(region([c[1], c[2]]), color='#9bbee2', lw=0))
    bg.add_patch(Polygon(region(c), color='#bdaec0', lw=0))
    for (x, y), n in zip(venn_pos[k], venn_counts[k]):
        put(x, y, n, fontsize=12, color='black')
    for (x, y), n in zip(venn_heads[k], ['HyDML', 'FastDMA', 'RnBeads', venn_names[k]]):
        put(x, y, n, fontsize=14, color='#222222')

# A
ax = axes_px(88, 88, 640, 477)
xs = np.arange(len(pct_labels))
ax.plot(xs, auc_hydml, '-.', color='y', marker='*', ms=10, lw=2, label='HyDML')
ax.plot(xs, auc_glm, '-.', color='darkcyan', marker='o', ms=9, lw=2, label='glm-single')
ax.plot(xs, auc_rmcfs, '-.', color='coral', marker='v', ms=10, lw=2, label='rmcfs-single')
ax.plot(xs, auc_mdfs, '-.', color='maroon', marker='d', ms=11, lw=2, label='MDFS-single')
ax.set_xticks(xs)
ax.set_xticklabels(pct_labels)
ax.set_xlim(-0.3, 6.3)
ax.set_ylim(0.75, 1.0)
ax.set_yticks([0.75, 0.80, 0.85, 0.90, 0.95, 1.00])
ax.set_yticklabels(['0.75', '0.80', '0.85', '0.90', '0.95', '1.00'])
ax.tick_params(labelsize=15)
ax.set_xlabel('Percentage of selected features', fontsize=14.5, labelpad=7)
ax.set_ylabel('AUC', fontsize=14.5, labelpad=7)
ax.legend(loc='lower left', frameon=False, fontsize=14.5, handlelength=1.9)
for s in ax.spines.values():
    s.set_linewidth(1.5)

# B
ax = axes_px(733, 82, 1409, 516)
xs = np.arange(len(cancers))
for off, vals, col, name in [(-0.3, stab_hydml, 'y', 'HyDML'), (-0.1, stab_glm, 'darkcyan', 'glm-single'),
                             (0.1, stab_rmcfs, 'coral', 'rmcfs-single'), (0.3, stab_mdfs, 'maroon', 'MDFS-single')]:
    ax.bar(xs + off, vals, 0.2, color=col, label=name, zorder=3)
ax.set_xticks(xs)
ax.set_xticklabels(cancers)
ax.set_xlim(-0.9, 12.92)
ax.set_ylim(0.4, 0.9)
ax.set_yticks([0.4, 0.5, 0.6, 0.7, 0.8, 0.9])
ax.tick_params(labelsize=8.5, length=3)
ax.set_ylabel('Stability based on Jaccard index', fontsize=7.5, family='DejaVu Sans', labelpad=6)
ax.grid(True, ls=(0, (2, 2)), color='#b0b0b0', lw=1)
ax.set_axisbelow(True)
ax.legend(loc='upper right', fontsize=8.5)
for s in ax.spines.values():
    s.set_linewidth(1.3)

# D
scatter_panels = [('HyDML', hydml_tumor + hydml_tumor_dense, hydml_normal, (69, 1168, 464, 1482), (-48.1, 29.8), (-28.5, 23.6),
                   [-40, -30, -20, -10, 0, 10, 20], [-20, -10, 0, 10, 20], (267, 1556)),
                  ('FastDMA', fastdma_tumor + fastdma_tumor_dense, fastdma_normal, (534, 1167, 929, 1481), (-16, 27), (-11.7, 13.55),
                   [-15, -10, -5, 0, 5, 10, 15, 20, 25], [-10, -5, 0, 5, 10], (730, 1555)),
                  ('RnBeads', rnbeads_tumor + rnbeads_tumor_dense, rnbeads_normal, (1000, 1165, 1395, 1479), (-15.7, 27.8), (-8.6, 9.5),
                   [-15, -10, -5, 0, 5, 10, 15, 20, 25], [-7.5, -5, -2.5, 0, 2.5, 5, 7.5], (1188, 1554))]
for name, tumor, normal, box, xl, yl, xt, yt, pos in scatter_panels:
    ax = axes_px(*box)
    t = np.array(tumor)
    n = np.array(normal)
    ax.scatter(t[:, 0], t[:, 1], s=36, marker='D', color='coral', alpha=0.75, label='tumor')
    ax.scatter(n[:, 0], n[:, 1], s=36, marker='D', color='tan', alpha=0.75, label='normal')
    ax.set_xlim(xl)
    ax.set_ylim(yl)
    ax.set_xticks(xt)
    ax.set_yticks(yt)
    if name == 'RnBeads':
        ax.set_yticklabels(['\u22127.5', '\u22125.0', '\u22122.5', '0.0', '2.5', '5.0', '7.5'])
    ax.tick_params(labelsize=11, pad=6)
    ax.set_xlabel('t-SNE 1', fontsize=10.5, labelpad=5)
    ax.set_ylabel('t-SNE 2', fontsize=10.5)
    ax.legend(loc='upper right', fontsize=11, handlelength=1.2, labelspacing=0.7, borderpad=0.6)
    for s in ax.spines.values():
        s.set_linewidth(1.3)
    put(pos[0], pos[1], name, fontsize=14, color='#222222')

for (x, y), letter in zip([(24, 20), (697, 20), (25, 615), (27, 1122)], 'ABCD'):
    put(x, y, letter, fontsize=22, fontweight='bold', family=['Liberation Sans'], color='#111111')

fig.savefig('out.png', dpi=100)
